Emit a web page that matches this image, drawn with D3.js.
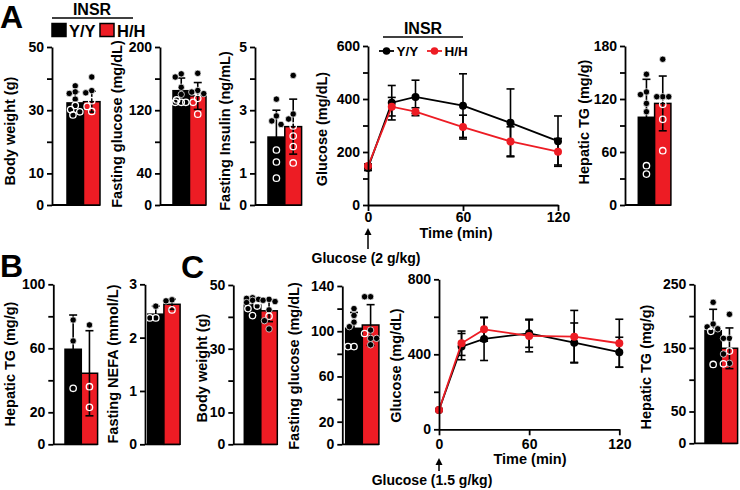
<!DOCTYPE html>
<html><head><meta charset="utf-8">
<script src="https://cdn.jsdelivr.net/npm/d3@7"></script>
<style>
html,body{margin:0;padding:0;background:#fff;}
svg{display:block;}
</style></head><body>
<svg id="chart" width="740" height="490"></svg>
<script>
// ---------------- DATA ----------------
const groups = ["Y/Y", "H/H"];
const legendTitle = "INSR";

// Panel A – bar charts (mean, SD, individual points: filled / open)
const bwA_mean = [32.3, 32.7], bwA_sd = [3.5, 3.3];
const bwA_YY_filled = [37.7, 35.8, 35.3, 33.5], bwA_YY_open = [31.5, 30.2, 29.5, 28.5];
const bwA_HH_filled = [40.5, 36.2, 35.5], bwA_HH_open = [33, 31.2, 29.6];
const bwA_ticks = [0, 10, 20, 30, 40, 50], bwA_labels = [0, 10, 30, 50];

const fgA_mean = [144.7, 138], fgA_sd = [16, 17];
const fgA_YY_filled = [166, 162, 149, 140], fgA_YY_open = [133, 130, 130, 130];
const fgA_HH_filled = [166.7, 145, 143, 141], fgA_HH_open = [135, 130, 115];
const fgA_ticks = [0, 40, 80, 120, 160, 200], fgA_labels = [0, 40, 120, 200];

const fiA_mean = [2.15, 2.48], fiA_sd = [0.85, 0.87];
const fiA_YY_filled = [3.35, 2.82, 2.66, 2.55], fiA_YY_open = [1.74, 1.36, 0.85];
const fiA_HH_filled = [4.1, 2.88, 2.72], fiA_HH_open = [2.5, 2.18, 1.85, 1.33];
const fiA_ticks = [0, 1, 2, 3, 4, 5], fiA_labels = [0, 1, 3, 5];

const htgA_mean = [99.3, 115], htgA_sd = [43, 31];
const htgA_YY_filled = [148, 128, 125, 115, 105.6], htgA_YY_open = [44.5, 35];
const htgA_HH_filled = [165, 122.6, 122.6, 122.6], htgA_HH_open = [114, 97, 61.5];
const htgA_ticks = [0, 30, 60, 90, 120, 150, 180], htgA_labels = [0, 60, 120, 180];

// Panel A – GTT
const gttA_time = [0, 15, 30, 60, 90, 120];
const gttA_YY = [140, 386, 408, 375, 310, 241], gttA_YY_sd = [10, 65, 63, 120, 128, 95];
const gttA_HH = [147, 371, 352, 294, 240, 201], gttA_HH_sd = [8, 35, 15, 45, 55, 50];
const gttA_yticks = [0, 100, 200, 300, 400, 500, 600], gttA_ylabels = [0, 200, 400, 600];
const gtt_xticks = [0, 60, 120];

// Panel B
const htgB_mean = [59.4, 44.4], htgB_sd = [21.4, 26.6];
const htgB_YY_filled = [77.7, 64.6], htgB_YY_open = [35];
const htgB_HH_filled = [74.6], htgB_HH_open = [36, 23.1];
const htgB_ticks = [0, 20, 40, 60, 80, 100], htgB_labels = [0, 20, 60, 100];

const nefaB_mean = [2.44, 2.625], nefaB_sd = [0.15, 0.095];
const nefaB_YY_filled = [2.59], nefaB_YY_open = [2.37, 2.37];
const nefaB_HH_filled = [2.71, 2.69], nefaB_HH_open = [2.52];
const nefaB_ticks = [0, 1, 2, 3], nefaB_labels = [0, 1, 2, 3];

// Panel C
const bwC_mean = [43.7, 41.9], bwC_sd = [1.6, 3.4];
const bwC_YY_filled = [46, 45.8, 45.5, 45.2, 44.5], bwC_YY_open = [43.4, 42.6, 40.4];
const bwC_HH_filled = [45.5, 45.2, 44.8, 42.2, 38.8, 36.2], bwC_HH_open = [40.2];
const bwC_ticks = [0, 10, 20, 30, 40, 50], bwC_labels = [0, 10, 30, 50];

const fgC_mean = [102.6, 105.5], fgC_sd = [14, 18];
const fgC_YY_filled = [120, 114, 108, 104], fgC_YY_open = [86.4, 86.4];
const fgC_HH_filled = [130.5, 130.5, 101, 93.7, 93.7, 88], fgC_HH_open = [98];
const fgC_ticks = [0, 20, 40, 60, 80, 100, 120, 140], fgC_labels = [0, 20, 60, 100, 140];

const gttC_time = [0, 15, 30, 60, 90, 120];
const gttC_YY = [103, 441, 482, 512, 462, 411], gttC_YY_sd = [0, 70, 115, 75, 105, 80];
const gttC_HH = [103, 459, 533, 498, 494, 459], gttC_HH_sd = [0, 65, 63, 85, 140, 128];
const gttC_yticks = [0, 200, 400, 600, 800], gttC_ylabels = [0, 400, 800];

const htgC_mean = [177, 149.4], htgC_sd = [33.7, 32];
const htgC_YY_filled = [221.7, 187.6, 183, 180], htgC_YY_open = [176, 124];
const htgC_HH_filled = [202.8, 165, 165, 140.4, 125.8], htgC_HH_open = [161, 145, 125];
const htgC_ticks = [0, 50, 100, 150, 200, 250], htgC_labels = [0, 50, 150, 250];

// ---------------- DRAWING ----------------
const RED = "#ED1C24";
const FONT = "'Liberation Sans', Arial, Helvetica, sans-serif";
const svg = d3.select("#chart");
const root = svg.append("g").attr("font-family", FONT).attr("font-weight", "bold");

function styleAxis(g) {
  g.attr("font-family", FONT).attr("font-size", 14).attr("font-weight", "bold");
  g.selectAll("path,line").attr("stroke", "#000").attr("stroke-width", 1.8);
  g.selectAll("text").attr("fill", "#000");
}

function addTitle(x, y, txt) {
  root.append("text").attr("transform", `translate(${x},${y}) rotate(-90)`)
    .attr("text-anchor", "middle").attr("dy", "0.35em")
    .attr("font-size", 14.5).text(txt);
}

function swarm(pts, y, cx, r) {
  const cands = [0, -4.6, 4.6, -2.3, 2.3, -6, 6];
  const placed = [];
  pts.slice().sort((a, b) => b.v - a.v).forEach(p => {
    const py = y(p.v);
    let best = 0, bestO = Infinity;
    for (const c of cands) {
      let o = 0;
      placed.forEach(q => { const d = Math.hypot(q.x - (cx + c), q.y - py); o += Math.max(0, 2 * r - 0.6 - d); });
      if (o < bestO) { bestO = o; best = c; }
      if (o === 0) break;
    }
    p.x = cx + best; p.y = py;
    placed.push(p);
  });
  return placed;
}

function barPanel(c) {
  const g = root.append("g");
  const y = d3.scaleLinear().domain([0, c.ticks[c.ticks.length - 1]]).range([c.y0, c.y1]);
  const x = d3.scaleBand().domain(groups).range([c.bx, c.bx + 2 * c.bw]).padding(0);
  const data = groups.map((k, i) => ({ k, i, m: c.mean[i], s: c.sd[i] }));
  g.append("line").attr("x1", c.axisX).attr("x2", x.range()[1]).attr("y1", y(0)).attr("y2", y(0))
    .attr("stroke", "#000").attr("stroke-width", 1.8);
  g.selectAll("rect.bar").data(data).join("rect").attr("class", "bar")
    .attr("x", d => x(d.k)).attr("y", d => y(d.m))
    .attr("width", x.bandwidth()).attr("height", d => y(0) - y(d.m))
    .attr("fill", d => d.i ? RED : "#000").attr("stroke", "#000").attr("stroke-width", 1.5);
  // error bars
  data.forEach(d => {
    const cx = x(d.k) + x.bandwidth() / 2;
    const lo = Math.max(0, d.m - d.s), hi = d.m + d.s;
    g.append("line").attr("x1", cx).attr("x2", cx).attr("y1", y(lo)).attr("y2", y(hi)).attr("stroke", "#000").attr("stroke-width", 1.6);
    [lo, hi].forEach(v => g.append("line").attr("x1", cx - 4).attr("x2", cx + 4).attr("y1", y(v)).attr("y2", y(v)).attr("stroke", "#000").attr("stroke-width", 1.6));
  });
  // points
  c.pts.forEach((pair, i) => {
    const pts = pair[0].map(v => ({ v, open: false })).concat(pair[1].map(v => ({ v, open: true })));
    const cx = x(groups[i]) + x.bandwidth() / 2;
    const placed = swarm(pts, y, cx, 3.3);
    g.selectAll(null).data(placed).join("circle")
      .attr("cx", p => p.x).attr("cy", p => p.y).attr("r", 3.2)
      .attr("fill", p => p.open ? "none" : "#000")
      .attr("stroke", "#fff").attr("stroke-width", p => p.open ? 1.3 : 0.7);
  });
  const ax = d3.axisLeft(y).tickValues(c.ticks).tickFormat(d => c.labels.includes(d) ? d : "")
    .tickSize(5).tickSizeOuter(0).tickPadding(3);
  const ga = g.append("g").attr("transform", `translate(${c.axisX},0)`).call(ax);
  styleAxis(ga);
  addTitle(c.tx, c.ty, c.title);
}

function gttPanel(c) {
  const g = root.append("g");
  const x = d3.scaleLinear().domain([0, 120]).range([c.axisX, c.xEnd]);
  const y = d3.scaleLinear().domain([0, c.yticks[c.yticks.length - 1]]).range([c.y0, c.y1]);
  const series = [
    { v: c.yy, s: c.yySd, col: "#000" },
    { v: c.hh, s: c.hhSd, col: RED }
  ];
  series.forEach(sr => {
    c.time.forEach((t, i) => {
      if (!sr.s[i]) return;
      const lo = sr.v[i] - sr.s[i], hi = sr.v[i] + sr.s[i];
      g.append("line").attr("x1", x(t)).attr("x2", x(t)).attr("y1", y(lo)).attr("y2", y(hi)).attr("stroke", "#000").attr("stroke-width", 1.6);
      [lo, hi].forEach(v => g.append("line").attr("x1", x(t) - 4).attr("x2", x(t) + 4).attr("y1", y(v)).attr("y2", y(v)).attr("stroke", "#000").attr("stroke-width", 1.6));
    });
  });
  series.forEach(sr => {
    const line = d3.line().x((d, i) => x(c.time[i])).y(d => y(d));
    g.append("path").datum(sr.v).attr("d", line).attr("fill", "none").attr("stroke", sr.col).attr("stroke-width", 1.8);
    g.selectAll(null).data(sr.v).join("circle").attr("cx", (d, i) => x(c.time[i])).attr("cy", d => y(d)).attr("r", 4).attr("fill", sr.col);
  });
  const ay = d3.axisLeft(y).tickValues(c.yticks).tickFormat(d => c.ylabels.includes(d) ? d : "")
    .tickSize(5).tickSizeOuter(0).tickPadding(3);
  const gy = g.append("g").attr("transform", `translate(${c.axisX},0)`).call(ay);
  styleAxis(gy);
  const axx = d3.axisBottom(x).tickValues(gtt_xticks).tickSize(6).tickSizeOuter(0).tickPadding(c.xpad);
  const gx = g.append("g").attr("transform", `translate(0,${c.y0})`).call(axx);
  styleAxis(gx);
  root.append("text").attr("x", c.timeX).attr("y", c.timeY).attr("text-anchor", "middle").attr("font-size", 14.5).text("Time (min)");
  addTitle(c.tx, c.ty, "Glucose (mg/dL)");
  // injection arrow
  const ax0 = x(0);
  root.append("line").attr("x1", ax0).attr("x2", ax0).attr("y1", c.arrowTop + 5).attr("y2", c.arrowBot).attr("stroke", "#000").attr("stroke-width", 1.5);
  root.append("path").attr("d", `M${ax0},${c.arrowTop} L${ax0 - 3.5},${c.arrowTop + 7} L${ax0 + 3.5},${c.arrowTop + 7} Z`).attr("fill", "#000");
  root.append("text").attr("x", c.injX).attr("y", c.injY).attr("text-anchor", "middle").attr("font-size", 14).text(c.injText);
}

// ---- Panel letters
root.append("text").attr("x", 0).attr("y", 28).attr("font-size", 32).text("A");
root.append("text").attr("x", 0).attr("y", 277).attr("font-size", 32).text("B");
root.append("text").attr("x", 181).attr("y", 278).attr("font-size", 32).text("C");

// ---- Top-left legend
root.append("text").attr("x", 92).attr("y", 15).attr("text-anchor", "middle").attr("font-size", 16).text(legendTitle);
root.append("line").attr("x1", 52).attr("x2", 133).attr("y1", 18).attr("y2", 18).attr("stroke", "#000").attr("stroke-width", 1.5);
groups.forEach((gname, i) => {
  const lx = [52, 100][i];
  root.append("rect").attr("x", lx).attr("y", 23.5).attr("width", 14).attr("height", 13)
    .attr("fill", i ? RED : "#000").attr("stroke", "#000").attr("stroke-width", 1.5);
  root.append("text").attr("x", lx + 17).attr("y", 36.5).attr("font-size", 16.5).text(gname);
});

// ---- Panel A
barPanel({ axisX: 52, bx: 67, bw: 16.5, y0: 205, y1: 47, ticks: bwA_ticks, labels: bwA_labels,
  mean: bwA_mean, sd: bwA_sd, pts: [[bwA_YY_filled, bwA_YY_open], [bwA_HH_filled, bwA_HH_open]],
  title: "Body weight (g)", tx: 10, ty: 131 });
barPanel({ axisX: 160, bx: 173, bw: 16.5, y0: 205, y1: 47, ticks: fgA_ticks, labels: fgA_labels,
  mean: fgA_mean, sd: fgA_sd, pts: [[fgA_YY_filled, fgA_YY_open], [fgA_HH_filled, fgA_HH_open]],
  title: "Fasting glucose (mg/dL)", tx: 117, ty: 124 });
barPanel({ axisX: 255, bx: 268, bw: 16.8, y0: 205, y1: 47, ticks: fiA_ticks, labels: fiA_labels,
  mean: fiA_mean, sd: fiA_sd, pts: [[fiA_YY_filled, fiA_YY_open], [fiA_HH_filled, fiA_HH_open]],
  title: "Fasting Insulin (ng/mL)", tx: 225, ty: 131 });
gttPanel({ axisX: 368, xEnd: 558, y0: 205, y1: 46, yticks: gttA_yticks, ylabels: gttA_ylabels,
  time: gttA_time, yy: gttA_YY, yySd: gttA_YY_sd, hh: gttA_HH, hhSd: gttA_HH_sd, xpad: 1,
  timeX: 456, timeY: 238, tx: 321.5, ty: 129, arrowTop: 228, arrowBot: 249,
  injX: 366, injY: 263, injText: "Glucose (2 g/kg)" });
barPanel({ axisX: 625, bx: 638.3, bw: 16.3, y0: 205, y1: 46, ticks: htgA_ticks, labels: htgA_labels,
  mean: htgA_mean, sd: htgA_sd, pts: [[htgA_YY_filled, htgA_YY_open], [htgA_HH_filled, htgA_HH_open]],
  title: "Hepatic TG (mg/g)", tx: 583.5, ty: 122 });

// GTT A legend
root.append("text").attr("x", 423).attr("y", 33.5).attr("text-anchor", "middle").attr("font-size", 16).text(legendTitle);
root.append("line").attr("x1", 383).attr("x2", 463).attr("y1", 37).attr("y2", 37).attr("stroke", "#000").attr("stroke-width", 1.5);
groups.forEach((gname, i) => {
  const lx = [379, 427][i], col = i ? RED : "#000";
  root.append("line").attr("x1", lx).attr("x2", lx + 15).attr("y1", 51).attr("y2", 51).attr("stroke", col).attr("stroke-width", 1.8);
  root.append("circle").attr("cx", lx + 7.5).attr("cy", 51).attr("r", 3.8).attr("fill", col);
  root.append("text").attr("x", lx + 17.5).attr("y", 56).attr("font-size", 13.5).text(gname);
});

// ---- Panel B
barPanel({ axisX: 53.3, bx: 65, bw: 16.3, y0: 444.3, y1: 284.3, ticks: htgB_ticks, labels: htgB_labels,
  mean: htgB_mean, sd: htgB_sd, pts: [[htgB_YY_filled, htgB_YY_open], [htgB_HH_filled, htgB_HH_open]],
  title: "Hepatic TG (mg/g)", tx: 10, ty: 364 });
barPanel({ axisX: 145, bx: 147.7, bw: 16.2, y0: 444.3, y1: 284.3, ticks: nefaB_ticks, labels: nefaB_labels,
  mean: nefaB_mean, sd: nefaB_sd, pts: [[nefaB_YY_filled, nefaB_YY_open], [nefaB_HH_filled, nefaB_HH_open]],
  title: "Fasting NEFA (mmol/L)", tx: 112.5, ty: 364 });

// ---- Panel C
barPanel({ axisX: 233.3, bx: 244.3, bw: 16.5, y0: 444.3, y1: 285, ticks: bwC_ticks, labels: bwC_labels,
  mean: bwC_mean, sd: bwC_sd, pts: [[bwC_YY_filled, bwC_YY_open], [bwC_HH_filled, bwC_HH_open]],
  title: "Body weight (g)", tx: 201.5, ty: 368 });
barPanel({ axisX: 342.3, bx: 345.7, bw: 16.6, y0: 444.3, y1: 286, ticks: fgC_ticks, labels: fgC_labels,
  mean: fgC_mean, sd: fgC_sd, pts: [[fgC_YY_filled, fgC_YY_open], [fgC_HH_filled, fgC_HH_open]],
  title: "Fasting glucose (mg/dL)", tx: 294, ty: 366 });
gttPanel({ axisX: 439, xEnd: 619.3, y0: 429.3, y1: 279.3, yticks: gttC_yticks, ylabels: gttC_ylabels,
  time: gttC_time, yy: gttC_YY, yySd: gttC_YY_sd, hh: gttC_HH, hhSd: gttC_HH_sd, xpad: 4,
  timeX: 530, timeY: 464, tx: 396, ty: 365.5, arrowTop: 458, arrowBot: 471,
  injX: 432, injY: 485, injText: "Glucose (1.5 g/kg)" });
barPanel({ axisX: 694.3, bx: 705, bw: 16.3, y0: 443.3, y1: 284.3, ticks: htgC_ticks, labels: htgC_labels,
  mean: htgC_mean, sd: htgC_sd, pts: [[htgC_YY_filled, htgC_YY_open], [htgC_HH_filled, htgC_HH_open]],
  title: "Hepatic TG (mg/g)", tx: 646, ty: 367 });
</script>
</body></html>
